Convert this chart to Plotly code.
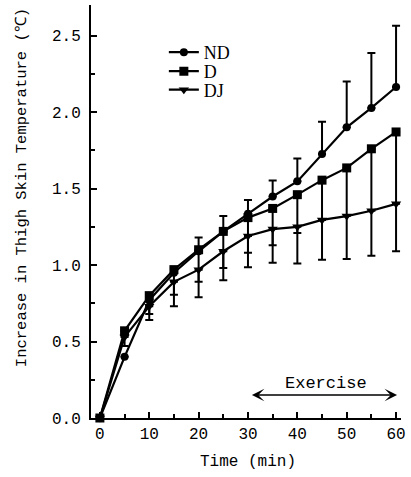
import plotly.graph_objects as go

time_min = [0, 5, 10, 15, 20, 25, 30, 35, 40, 45, 50, 55, 60]
nd = [0.0, 0.40, 0.77, 0.95, 1.09, 1.22, 1.335, 1.448, 1.547, 1.726, 1.90, 2.027, 2.164]
nd_err_up = [0.0, 0.0, 0.03, 0.03, 0.09, 0.10, 0.09, 0.105, 0.15, 0.21, 0.30, 0.36, 0.40]
d = [0.0, 0.57, 0.80, 0.97, 1.10, 1.22, 1.31, 1.37, 1.46, 1.555, 1.635, 1.76, 1.87]
d_err_down = [0.0, 0.0, 0.16, 0.24, 0.31, 0.32, 0.325, 0.355, 0.45, 0.52, 0.595, 0.70, 0.78]
dj = [0.0, 0.53, 0.73, 0.89, 0.97, 1.09, 1.19, 1.235, 1.25, 1.295, 1.32, 1.355, 1.40]
dj_err_down = [0.0, 0.06, 0.05, 0.085, 0.08, 0.11, 0.11, 0.105, 0.04, 0.0, 0.0, 0.0, 0.0]

x_ticks = [0, 10, 20, 30, 40, 50, 60]
y_ticks = [0.0, 0.5, 1.0, 1.5, 2.0, 2.5]
y_tick_labels = ["0.0", "0.5", "1.0", "1.5", "2.0", "2.5"]
exercise_span = [30.5, 60.2]
exercise_label = "Exercise"
x_title = "Time (min)"
y_title = "Increase in Thigh Skin Temperature (℃)"

mono = "Liberation Mono"
serif = "Liberation Serif"

fig = go.Figure()

fig.add_trace(go.Scatter(
    x=time_min, y=nd, name="ND", mode="lines+markers", cliponaxis=False,
    legend="legend",
    line=dict(color="black", width=2.2),
    marker=dict(symbol="circle", size=8, color="black"),
    error_y=dict(type="data", array=nd_err_up, arrayminus=[0]*len(nd), symmetric=False,
                 color="black", thickness=2, width=4),
))
fig.add_trace(go.Scatter(
    x=time_min, y=d, name="D", mode="lines+markers", cliponaxis=False,
    legend="legend2",
    line=dict(color="black", width=2.2),
    marker=dict(symbol="square", size=9, color="black"),
    error_y=dict(type="data", array=[0]*len(d), arrayminus=d_err_down, symmetric=False,
                 color="black", thickness=2, width=4),
))
fig.add_trace(go.Scatter(
    x=time_min, y=dj, name="DJ", mode="lines+markers", cliponaxis=False,
    legend="legend3",
    line=dict(color="black", width=2.2),
    marker=dict(symbol="triangle-down", size=9, color="black"),
    error_y=dict(type="data", array=[0]*len(dj), arrayminus=dj_err_down, symmetric=False,
                 color="black", thickness=2, width=4),
))

fig.add_annotation(
    x=exercise_span[1], y=0.15, ax=exercise_span[0], ay=0.15,
    xref="x", yref="y", axref="x", ayref="y",
    text="", showarrow=True, arrowhead=3, arrowside="end+start",
    arrowsize=1.3, arrowwidth=1.6, arrowcolor="black",
)
fig.add_annotation(
    x=45.8, y=0.227, xref="x", yref="y", text=exercise_label, showarrow=False,
    font=dict(family=mono, size=17, color="black"),
)
fig.add_annotation(
    x=0.505, y=-0.1065, xref="paper", yref="paper", text=x_title, showarrow=False,
    xanchor="center", yanchor="middle",
    font=dict(family=mono, size=16, color="black"),
)
fig.add_annotation(
    x=-0.2226, y=0.559, xref="paper", yref="paper", text=y_title, showarrow=False,
    xanchor="center", yanchor="middle", textangle=-90,
    font=dict(family=mono, size=15.5, color="black"),
)

legend_common = dict(x=0.235, xanchor="left", yanchor="middle",
                     bgcolor="rgba(0,0,0,0)",
                     font=dict(family=serif, size=18, color="black"))

fig.update_layout(
    width=411, height=477,
    margin=dict(l=91, r=10, t=5, b=59, autoexpand=False),
    paper_bgcolor="white", plot_bgcolor="white",
    showlegend=True,
    legend=dict(y=1 - (52.5 - 5) / 413, **legend_common),
    legend2=dict(y=1 - (71.5 - 5) / 413, **legend_common),
    legend3=dict(y=1 - (90 - 5) / 413, **legend_common),
    font=dict(family=mono, color="black"),
)

fig.update_xaxes(
    range=[-1.8, 61], tickmode="array", tickvals=x_ticks,
    ticktext=[str(v) for v in x_ticks], automargin=False,
    showline=True, linecolor="black", linewidth=2, mirror=False,
    ticks="inside", ticklen=6, tickwidth=1.5, tickcolor="black",
    minor=dict(dtick=5, ticks="inside", ticklen=4, tickcolor="black", tickwidth=1.5),
    showgrid=False, zeroline=False,
    tickfont=dict(family=mono, size=16, color="black"),
)
fig.update_yaxes(
    range=[0, 2.7], tickmode="array", tickvals=y_ticks, ticktext=y_tick_labels,
    automargin=False, ticklabelstandoff=5,
    showline=True, linecolor="black", linewidth=2, mirror=False,
    ticks="inside", ticklen=6, tickwidth=1.5, tickcolor="black",
    minor=dict(dtick=0.25, ticks="inside", ticklen=4, tickcolor="black", tickwidth=1.5),
    showgrid=False, zeroline=False,
    tickfont=dict(family=mono, size=16, color="black"),
)

fig.write_html("out.html", config={"displayModeBar": False},
               post_script="document.body.style.margin='0px';")
